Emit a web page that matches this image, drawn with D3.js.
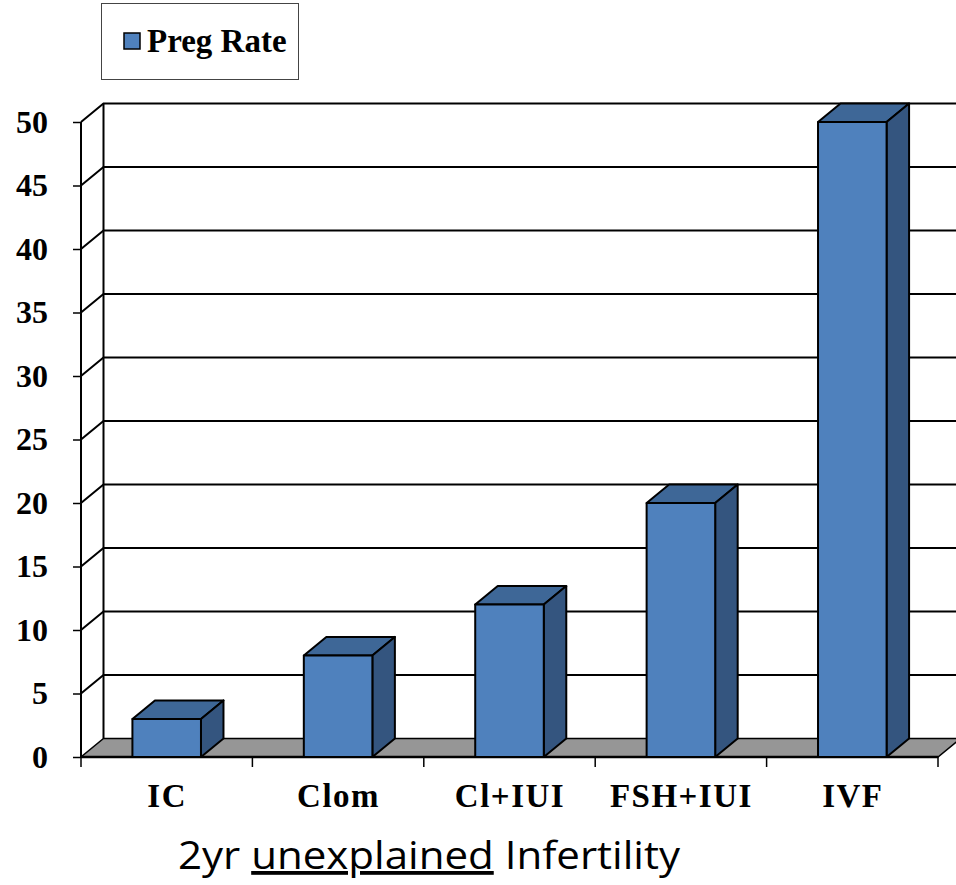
<!DOCTYPE html>
<html>
<head>
<meta charset="utf-8">
<script src="https://cdn.jsdelivr.net/npm/d3@7"></script>
<style>
  html, body { margin: 0; padding: 0; background: #fff; }
  svg { display: block; }
</style>
</head>
<body>
<svg id="chart" width="956" height="885"></svg>
<script>
// Pregnancy rate by treatment
const categories = ["IC", "Clom", "Cl+IUI", "FSH+IUI", "IVF"];
const pregRate = [3, 8, 12, 20, 50];
const yTicks = [0, 5, 10, 15, 20, 25, 30, 35, 40, 45, 50];
const seriesName = "Preg Rate";
const caption = ["2yr ", "unexplained", " Infertility"];

const svg = d3.select("#chart");

// front plane and 3-D depth offset
const plotLeft = 81, plotRight = 938, plotBottom = 757, plotTop = 122;
const dx = 22.5, dy = -18.5;

const x = d3.scaleBand().domain(categories).range([plotLeft, plotRight])
  .paddingInner(0.6).paddingOuter(0.3);
const y = d3.scaleLinear().domain([0, 50]).range([plotBottom, plotTop]);

const serif = "'Liberation Serif', 'DejaVu Serif', serif";
const poly = pts => pts.map(p => p.join(",")).join(" ");

// back wall
const wallRight = plotRight + dx + 20;
svg.append("rect")
  .attr("x", plotLeft + dx).attr("y", y(50) + dy)
  .attr("width", wallRight - (plotLeft + dx)).attr("height", y(0) - y(50))
  .attr("fill", "#fff");

// gridlines: slanted on the side wall, horizontal on the back wall
const grid = svg.append("g").attr("stroke", "#000").attr("stroke-width", 2).attr("fill", "none");
yTicks.filter(v => v > 0).forEach(v => {
  grid.append("polyline")
    .attr("points", poly([[plotLeft, y(v)], [plotLeft + dx, y(v) + dy], [wallRight, y(v) + dy]]));
});
// back-wall left edge and front axis line
grid.append("line").attr("x1", plotLeft + dx).attr("x2", plotLeft + dx)
  .attr("y1", y(50) + dy).attr("y2", y(0) + dy);
grid.append("line").attr("x1", plotLeft).attr("x2", plotLeft)
  .attr("y1", y(50)).attr("y2", y(0));

// floor
svg.append("polygon")
  .attr("points", poly([[plotLeft, y(0)], [plotRight, y(0)], [plotRight + dx, y(0) + dy], [plotLeft + dx, y(0) + dy]]))
  .attr("fill", "#969696").attr("stroke", "#000").attr("stroke-width", 1.5);
svg.append("line").attr("x1", plotLeft).attr("x2", plotRight)
  .attr("y1", y(0)).attr("y2", y(0))
  .attr("stroke", "#000").attr("stroke-width", 2.5);

// bars
const bars = svg.append("g").attr("stroke", "#000").attr("stroke-width", 2).attr("stroke-linejoin", "round");
categories.forEach((c, i) => {
  const x0 = x(c), x1 = x(c) + x.bandwidth();
  const yt = y(pregRate[i]), yb = y(0);
  const g = bars.append("g");
  g.append("polygon")
    .attr("points", poly([[x0, yt], [x1, yt], [x1 + dx, yt + dy], [x0 + dx, yt + dy]]))
    .attr("fill", "#3E6797");
  g.append("polygon")
    .attr("points", poly([[x1, yt], [x1 + dx, yt + dy], [x1 + dx, yb + dy], [x1, yb]]))
    .attr("fill", "#34557F");
  g.append("rect")
    .attr("x", x0).attr("y", yt).attr("width", x1 - x0).attr("height", yb - yt)
    .attr("fill", "#4F81BD");
});

// y axis
const yAxis = svg.append("g").attr("transform", `translate(${plotLeft},0)`)
  .call(d3.axisLeft(y).tickValues(yTicks).tickSize(8).tickPadding(25).tickFormat(d3.format("d")));
yAxis.select(".domain").remove();
yAxis.selectAll(".tick line").attr("stroke", "#000").attr("stroke-width", 1.5);
yAxis.selectAll(".tick text")
  .attr("font-family", serif).attr("font-weight", "bold").attr("font-size", 32).attr("fill", "#000");

// x axis: ticks at category boundaries, labels at centres
const edges = categories.map(c => x(c) - x.step() * x.paddingInner() / 2);
edges[0] = plotLeft;
edges.push(plotRight);
svg.append("g").selectAll("line").data(edges).join("line")
  .attr("x1", d => d).attr("x2", d => d)
  .attr("y1", y(0)).attr("y2", y(0) + 10)
  .attr("stroke", "#000").attr("stroke-width", 1.5);
svg.append("g").selectAll("text").data(categories).join("text")
  .attr("x", d => x(d) + x.bandwidth() / 2 + 0.5)
  .attr("y", 807)
  .attr("text-anchor", "middle")
  .attr("font-family", serif).attr("font-weight", "bold").attr("font-size", 33)
  .attr("letter-spacing", 1.5)
  .text(d => d);

// legend
const legend = svg.append("g");
legend.append("rect").attr("x", 101.5).attr("y", 3.5).attr("width", 197).attr("height", 76)
  .attr("fill", "#fff").attr("stroke", "#444").attr("stroke-width", 1);
legend.append("rect").attr("x", 124).attr("y", 33).attr("width", 16).attr("height", 16)
  .attr("fill", "#4F81BD").attr("stroke", "#000").attr("stroke-width", 1.5);
legend.append("text").attr("x", 147).attr("y", 52)
  .attr("font-family", serif).attr("font-weight", "bold").attr("font-size", 33)
  .text(seriesName);

// caption
const cap = svg.append("text").attr("x", 178).attr("y", 869)
  .attr("font-family", "'Open Sans', sans-serif").attr("font-size", 38)
  .attr("textLength", 502).attr("lengthAdjust", "spacingAndGlyphs");
caption.forEach((t, i) => {
  cap.append("tspan").attr("text-decoration", i === 1 ? "underline" : null).text(t);
});
</script>
</body>
</html>
